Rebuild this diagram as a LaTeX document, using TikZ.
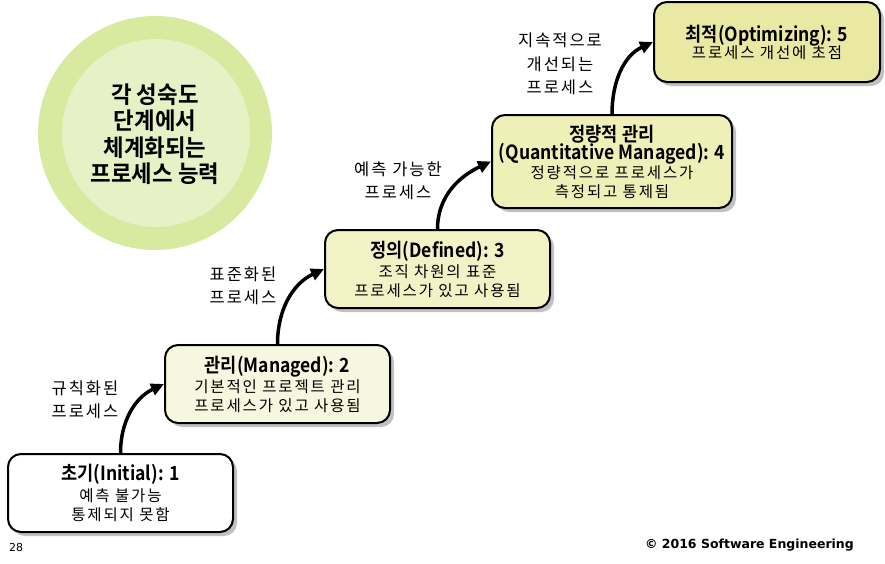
\documentclass[tikz,border=0pt]{standalone}
\usepackage{fontspec}
\setmainfont{Noto Sans CJK KR}
\newfontfamily\kr[LetterSpace=12]{Noto Sans CJK KR}
\newfontfamily\ttlfam[FakeStretch=0.9]{Noto Sans CJK KR Bold}
\newfontfamily\circfam[FakeStretch=0.95]{Noto Sans CJK KR Bold}
\newfontfamily\footfont{DejaVu Sans}
\usetikzlibrary{arrows.meta,shadows}
\definecolor{cOuter}{HTML}{D8E9A0}
\definecolor{cInner}{HTML}{E6F1C6}
\definecolor{cB2}{HTML}{F7F7E1}
\definecolor{cB3}{HTML}{F2F2C6}
\definecolor{cB4}{HTML}{EFEFB8}
\definecolor{cB5}{HTML}{E9E9A3}
\tikzset{
  lvl/.style={draw=black, line width=2pt, rounded corners=13pt, align=center,
    minimum width=225pt, minimum height=78pt, inner sep=2pt,
    drop shadow={shadow xshift=4pt, shadow yshift=-4pt, fill=black!30, opacity=0.8},
    font=\kr\fontsize{15.5}{19}\selectfont},
  arr/.style={line width=3.5pt, -{Triangle[length=13pt,width=12pt]}},
  lbl/.style={align=center, font=\kr\fontsize{16.5}{23.5}\selectfont, inner sep=0pt}
}
\newcommand{\ttlfont}{\ttlfam\fontsize{19.5}{24}\selectfont}
\begin{document}
\begin{tikzpicture}[x=1pt,y=-1pt]
\useasboundingbox (0,0) rectangle (885,563);
% circle
\fill[cOuter] (155,133) circle (117);
\fill[cInner] (156,133) circle (94);
\node[align=center, font=\circfam\fontsize{23.5}{25.5}\selectfont, inner sep=0pt] (circ) at (155,134)
  {각 성숙도\\[1pt]단계에서\\[1pt]체계화되는\\[1pt]프로세스 능력};
% boxes
\node[lvl, fill=white] (b1) at (120.5,493) {{\ttlfont 초기(Initial): 1}\\[1.5pt]예측 불가능\\통제되지 못함};
\node[lvl, fill=cB2] (b2) at (277.5,384) {{\ttlfont 관리(Managed): 2}\\[1pt]기본적인 프로젝트 관리\\프로세스가 있고 사용됨};
\node[lvl, fill=cB3] (b3) at (437.5,269) {{\ttlfont 정의(Defined): 3}\\[1pt]조직 차원의 표준\\프로세스가 있고 사용됨};
\node[lvl, fill=cB4, minimum width=240pt, minimum height=93pt] (b4) at (612,161.5)
  {{\ttlfont 정량적 관리}\\[-1pt]{\ttlfont (Quantitative Managed): 4}\\[0pt]정량적으로 프로세스가\\측정되고 통제됨};
\node[lvl, fill=cB5, minimum width=226pt, minimum height=80pt] (b5) at (767,42)
  {{\ttlfont 최적(Optimizing): 5}\\[-2pt]프로세스 개선에 초점};
% arrows
\draw[arr] (b1.north) to[out=90, in=205] (b2.west);
\draw[arr] (b2.north) to[out=90, in=205] (b3.west);
\draw[arr] (b3.north) to[out=90, in=205] (b4.west);
\draw[arr] (b4.north) to[out=90, in=205] (b5.west);
% labels
\node[lbl] (l1) at (85,400) {규칙화된\\프로세스};
\node[lbl] (l2) at (243,286) {표준화된\\프로세스};
\node[lbl] (l3) at (398,181) {예측 가능한\\프로세스};
\node[lbl] (l4) at (560,64) {지속적으로\\개선되는\\프로세스};
% footer
\node[font=\footfont\fontsize{11}{13}\selectfont, anchor=west, inner sep=0pt] (pg) at (9,547) {28};
\node[font=\footfont\fontsize{12.5}{15}\selectfont\bfseries, anchor=east, inner sep=0pt] (cp) at (854,545) {© 2016 Software Engineering};
\end{tikzpicture}
\end{document}
